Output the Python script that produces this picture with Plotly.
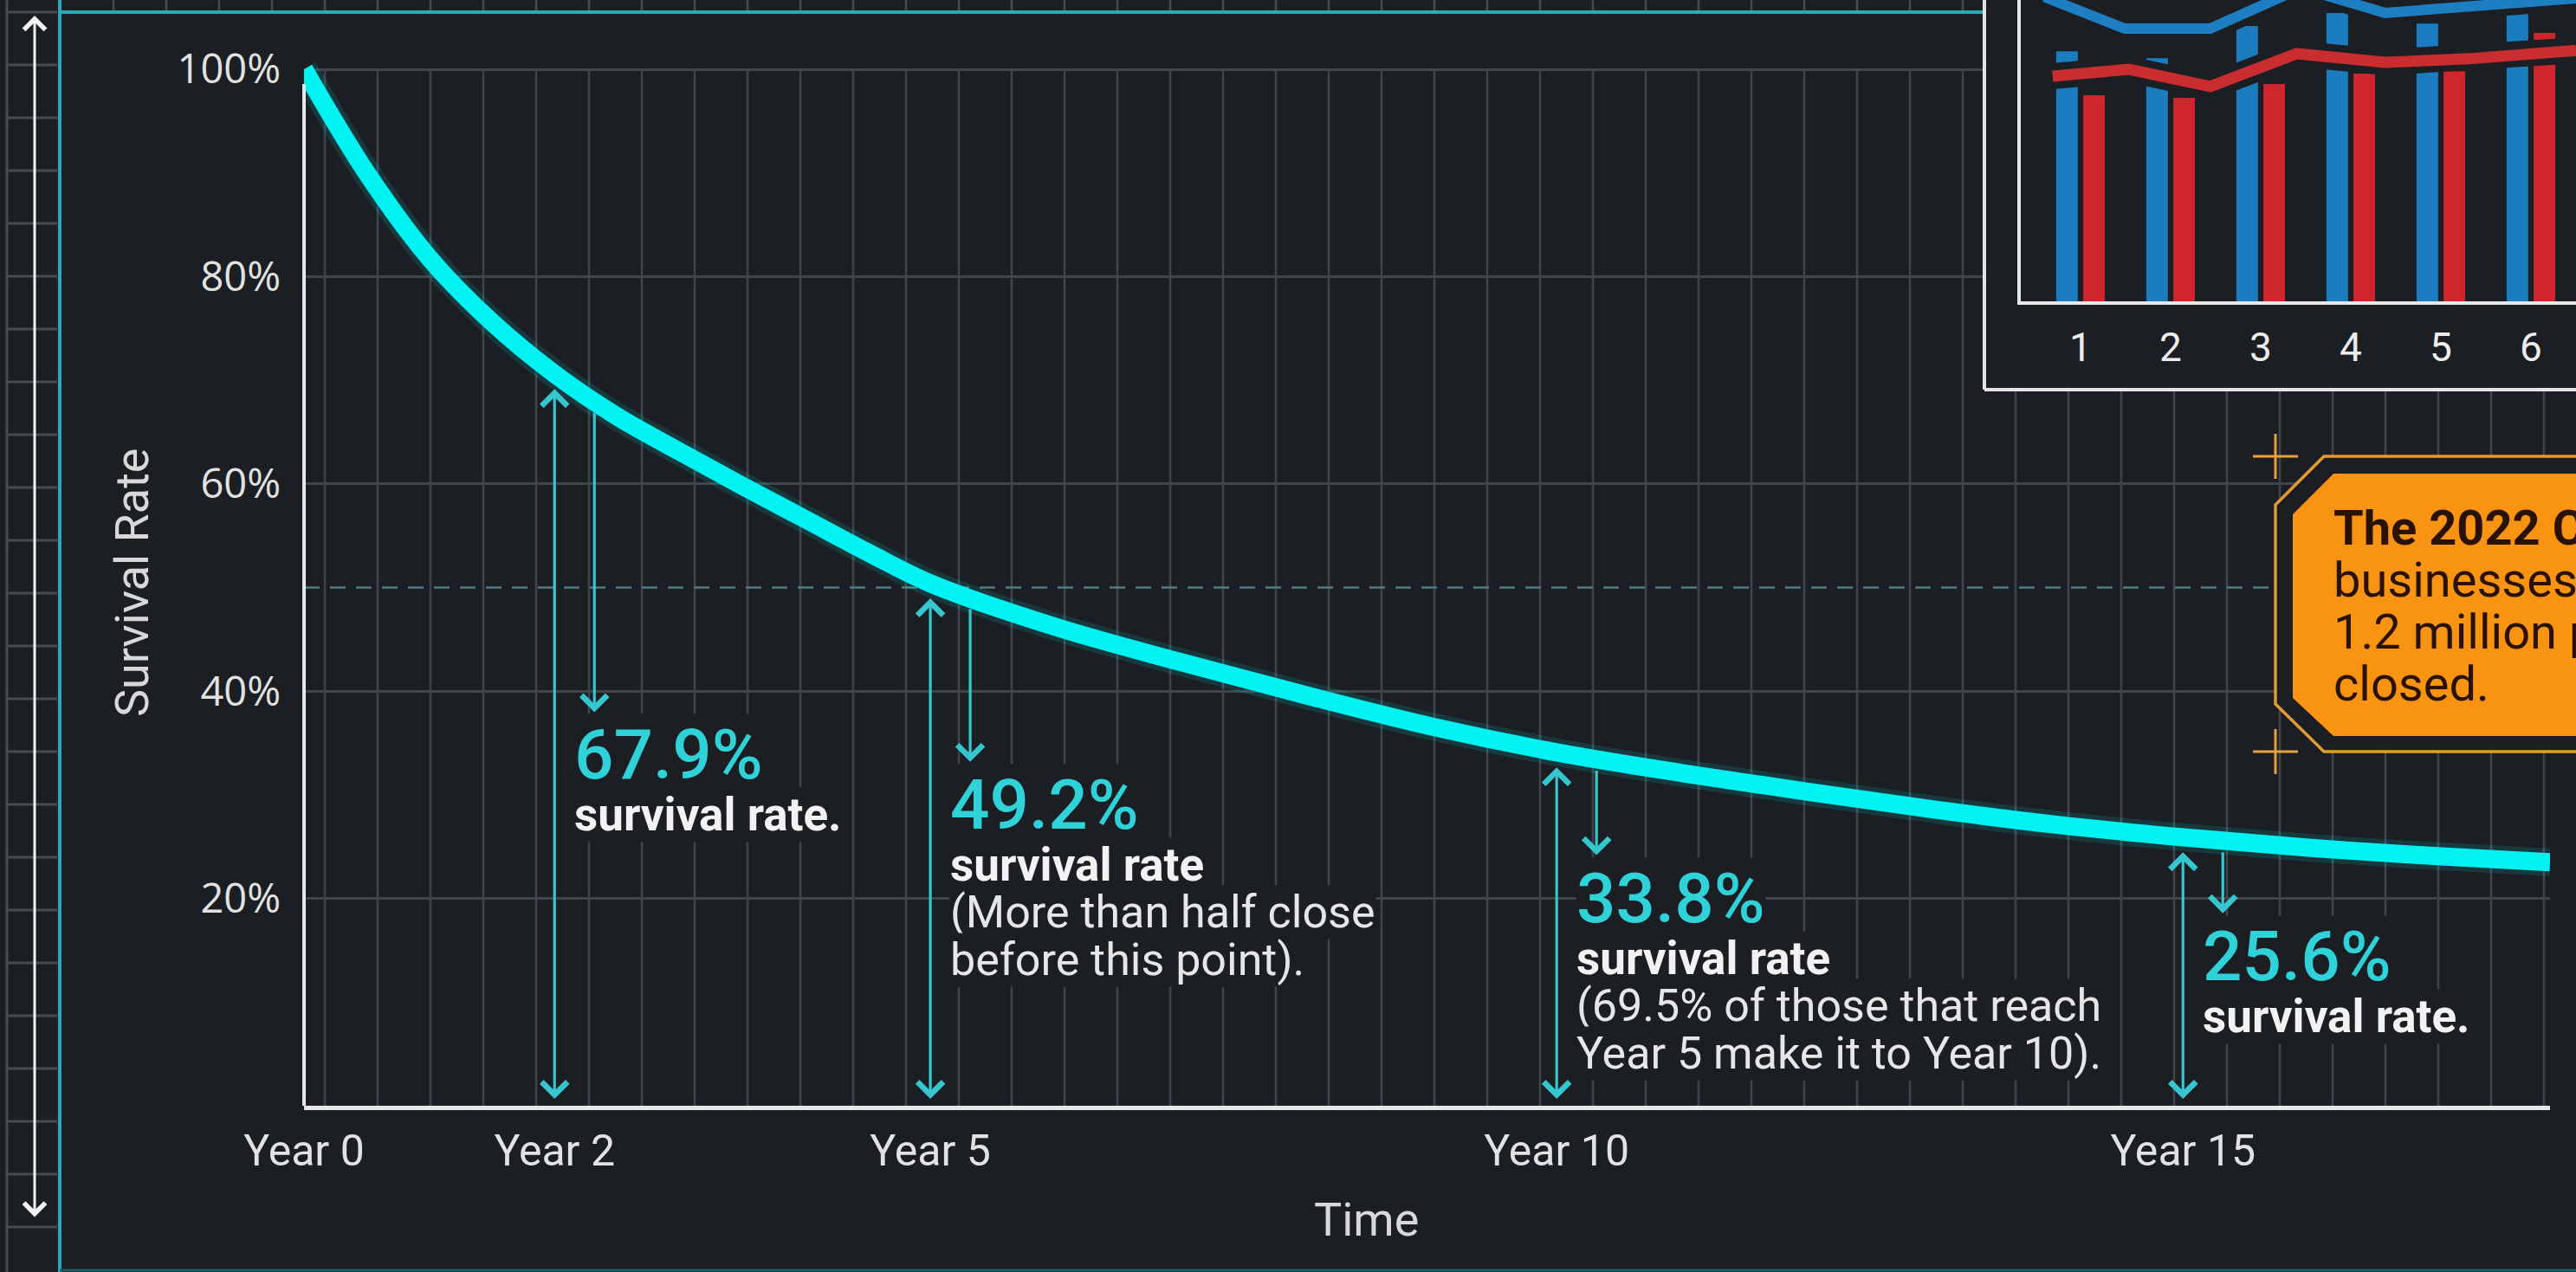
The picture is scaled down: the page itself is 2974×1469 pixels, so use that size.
import numpy as np
import plotly.graph_objects as go

# ------------------------------------------------------------------ data
years = [0, 0.5, 1, 1.5, 2, 2.5, 3, 3.5, 4, 4.5, 5, 6, 7, 8, 9, 10, 11, 12, 13, 14, 15, 16, 17, 17.93]
survival = [100, 90.0, 81.8, 75.6, 70.6, 66.5, 63.1, 59.8, 56.6, 53.4, 50.4, 46.2, 42.8, 39.6, 36.6,
            34.1, 32.1, 30.3, 28.6, 27.1, 25.9, 24.9, 24.1, 23.5]

milestone_years = [2, 5, 10, 15]
milestone_rates = [67.9, 49.2, 33.8, 25.6]
milestone_notes = [
    ["survival rate."],
    ["survival rate", "(More than half close", "before this point)."],
    ["survival rate", "(69.5% of those that reach", "Year 5 make it to Year 10)."],
    ["survival rate."],
]

x_tick_vals = [0, 2, 5, 10, 15]
x_tick_text = ["Year 0", "Year 2", "Year 5", "Year 10", "Year 15"]
y_tick_vals = [20, 40, 60, 80, 100]
y_tick_text = ["20%", "40%", "60%", "80%", "100%"]
half_mark = 50

inset_cats = [1, 2, 3, 4, 5, 6]
inset_blue_bars = [83.0, 80.7, 91.4, 95.7, 92.2, 96.6]
inset_red_bars = [68.4, 67.5, 72.1, 75.6, 76.4, 89.1]
inset_blue_line_x = [0.6, 1.49, 2.44, 3.45, 4.38, 5.31, 6.5]
inset_blue_line_y = [101.0, 90.5, 90.5, 104.0, 95.7, 97.7, 100.6]
inset_red_line_x = [0.69, 1.54, 2.44, 3.40, 4.38, 5.31, 6.5]
inset_red_line_y = [74.7, 77.0, 71.3, 82.2, 79.3, 80.5, 83.3]

callout_lines = ["The 2022 Census data:", "businesses opened and", "1.2 million private", "closed."]

# ------------------------------------------------------------------ layout constants
W, H = 2974, 1469
BG = "#1b1e23"
GRID = "#40454c"
CYAN = "#00f2f2"
ARROW = "#36c6cf"
PCT = "#2fd2d8"
FONT = "Roboto"

PL, PR, PB = 351, 2944, 1277        # main plot left/right/bottom (px)
PPU = 11.97                          # px per percent
X_MAX = years[-1]
PPY = (PR - PL) / X_MAX              # px per year
Y_TOP = 102.0

label_y = [33.8, 29.0, 20.0, 14.4]  # vertical placement of each callout (in %)


def fx(p):
    return p / W


def fy(p):
    return 1 - p / H


fig = go.Figure()

# main curve (glow + line)
fig.add_trace(go.Scatter(x=years, y=survival, mode="lines",
                         line=dict(color="rgba(0,242,242,0.13)", width=32, shape="spline", smoothing=1.0),
                         hoverinfo="skip", showlegend=False))
fig.add_trace(go.Scatter(x=years, y=survival, mode="lines",
                         line=dict(color=CYAN, width=21, shape="spline", smoothing=1.0), showlegend=False))

# inset bars & lines
fig.add_trace(go.Bar(x=inset_cats, y=inset_blue_bars, width=0.24, offset=-0.27,
                     marker=dict(color="#1b7dc0", line=dict(width=0)), xaxis="x2", yaxis="y2", showlegend=False))
fig.add_trace(go.Bar(x=inset_cats, y=inset_red_bars, width=0.24, offset=0.03,
                     marker=dict(color="#cf252c", line=dict(width=0)), xaxis="x2", yaxis="y2", showlegend=False))
fig.add_trace(go.Scatter(x=inset_red_line_x, y=inset_red_line_y, mode="lines", line=dict(color=BG, width=30),
                         xaxis="x2", yaxis="y2", showlegend=False, hoverinfo="skip"))
fig.add_trace(go.Scatter(x=inset_red_line_x, y=inset_red_line_y, mode="lines", line=dict(color="#c92d30", width=13),
                         xaxis="x2", yaxis="y2", showlegend=False))
fig.add_trace(go.Scatter(x=inset_blue_line_x, y=inset_blue_line_y, mode="lines", line=dict(color=BG, width=28),
                         xaxis="x2", yaxis="y2", showlegend=False, hoverinfo="skip"))
fig.add_trace(go.Scatter(x=inset_blue_line_x, y=inset_blue_line_y, mode="lines", line=dict(color="#1d7fc1", width=12),
                         xaxis="x2", yaxis="y2", showlegend=False))

shapes = []
# vertical grid of main plot
xp = 375
while xp <= PR:
    xv = (xp - PL) / PPY
    shapes.append(dict(type="line", xref="x", yref="y", x0=xv, x1=xv, y0=0, y1=100, layer="below",
                       line=dict(color=GRID, width=2.5)))
    xp += 61
# cover main grid behind inset
shapes.append(dict(type="rect", xref="x", yref="y", layer="between", x0=(2291 - PL) / PPY, x1=X_MAX + 1,
                   y0=(PB - 450) / PPU, y1=Y_TOP + 5, fillcolor=BG, line=dict(width=0)))
# dashed 50% line
shapes.append(dict(type="line", xref="x", yref="y", layer="between", x0=0, x1=X_MAX, y0=half_mark, y1=half_mark,
                   line=dict(color="#527d82", width=2.5, dash="18px,12px")))

# left ruler & frame
shapes.append(dict(type="line", xref="paper", yref="paper", x0=fx(8), x1=fx(8), y0=0, y1=1, layer="above",
                   line=dict(color="#474c53", width=3)))
yt = 14
while yt < H:
    shapes.append(dict(type="line", xref="paper", yref="paper", x0=fx(8), x1=fx(66), y0=fy(yt), y1=fy(yt),
                       layer="above", line=dict(color="#474c53", width=3)))
    yt += 61
xt = 131
while xt < 2290:
    shapes.append(dict(type="line", xref="paper", yref="paper", x0=fx(xt), x1=fx(xt), y0=fy(0), y1=fy(12),
                       layer="above", line=dict(color="#474c53", width=2.5)))
    xt += 61
shapes.append(dict(type="line", xref="paper", yref="paper", x0=fx(69), x1=fx(69), y0=0, y1=1, layer="above",
                   line=dict(color="#2aaab8", width=4)))
shapes.append(dict(type="line", xref="paper", yref="paper", x0=fx(69), x1=fx(2291), y0=fy(14), y1=fy(14),
                   layer="above", line=dict(color="#2aaab8", width=4)))
shapes.append(dict(type="line", xref="paper", yref="paper", x0=fx(69), x1=1, y0=fy(1467), y1=fy(1467),
                   layer="above", line=dict(color="#1b5c64", width=3)))
# y axis line
shapes.append(dict(type="line", xref="paper", yref="paper", x0=fx(PL), x1=fx(PL), y0=fy(97), y1=fy(PB),
                   layer="above", line=dict(color="#e6e6e6", width=4)))
# inset outer frame
shapes.append(dict(type="line", xref="paper", yref="paper", x0=fx(2291), x1=fx(2291), y0=fy(0), y1=fy(450),
                   layer="above", line=dict(color="#e4e4e4", width=4)))
shapes.append(dict(type="line", xref="paper", yref="paper", x0=fx(2291), x1=1.01, y0=fy(450), y1=fy(450),
                   layer="above", line=dict(color="#e4e4e4", width=4)))


# orange callout
def poly(pts):
    return "M " + " L ".join(f"{fx(a):.5f},{fy(b):.5f}" for a, b in pts) + " Z"


ORANGE = "#f99412"
ORANGE_LINE = "#e39a32"
shapes.append(dict(type="path", xref="paper", yref="paper", layer="above",
                   path=poly([(2683, 527), (2995, 527), (2995, 868), (2683, 868), (2627, 813), (2627, 583)]),
                   fillcolor=BG, line=dict(color=ORANGE_LINE, width=3.5)))
shapes.append(dict(type="path", xref="paper", yref="paper", layer="above",
                   path=poly([(2694, 547), (2995, 547), (2995, 850), (2694, 850), (2647, 806), (2647, 594)]),
                   fillcolor=ORANGE, line=dict(width=0)))
for cx, cy in [(2627, 527), (2627, 868)]:
    shapes.append(dict(type="line", xref="paper", yref="paper", layer="above", x0=fx(cx - 26), x1=fx(cx + 26),
                       y0=fy(cy), y1=fy(cy), line=dict(color="#e9a03c", width=3)))
    shapes.append(dict(type="line", xref="paper", yref="paper", layer="above", x0=fx(cx), x1=fx(cx),
                       y0=fy(cy - 26), y1=fy(cy + 26), line=dict(color="#e9a03c", width=3)))

annotations = []
# axis titles
annotations.append(dict(xref="paper", yref="paper", x=fx(152), y=fy(673), xanchor="center", yanchor="middle",
                        text="Survival Rate", showarrow=False, textangle=-90,
                        font=dict(family=FONT, size=54, color="#d8d8d8")))
annotations.append(dict(xref="paper", yref="paper", x=fx(1577), y=fy(1408), xanchor="center", yanchor="middle",
                        text="Time", showarrow=False, font=dict(family=FONT, size=54, color="#d8d8d8")))

# milestone callouts
TEXT_DX = 22
for yr, rate, notes, ly in zip(milestone_years, milestone_rates, milestone_notes, label_y):
    annotations.append(dict(xref="x", yref="y", x=yr, y=ly, xanchor="left", yanchor="middle", xshift=TEXT_DX,
                            text=f"{rate:.1f}%", showarrow=False, bgcolor=BG, borderpad=0,
                            font=dict(family=FONT, size=80, color=PCT, weight=500)))
    for j, line in enumerate(notes):
        shift = -(69 + 55 * j)
        if j == 0:
            fnt = dict(family=FONT, size=53, color="#f2f2f2", weight="bold")
        else:
            fnt = dict(family=FONT, size=52, color="#e6e6e6")
        annotations.append(dict(xref="x", yref="y", x=yr, y=ly, xanchor="left", yanchor="middle", xshift=TEXT_DX,
                                yshift=shift, text=line, showarrow=False, bgcolor=BG, borderpad=0, font=fnt))

for yr, ly in zip(milestone_years, label_y):
    curve_here = float(np.interp(yr, years, survival))
    # double arrow from axis up to the curve
    annotations.append(dict(xref="x", yref="y", axref="x", ayref="y", x=yr, y=curve_here - 1.45, ax=yr, ay=0.55,
                            text="", showarrow=True, arrowside="end+start", arrowhead=4, startarrowhead=4,
                            arrowsize=1.8, startarrowsize=1.8, arrowwidth=3.2, arrowcolor=ARROW))
    # arrow from the curve down to the label
    x2 = yr + 46 / PPY
    top = float(np.interp(x2, years, survival)) - 1.0
    annotations.append(dict(xref="x", yref="y", axref="x", ayref="y", x=x2, y=ly + 50 / PPU, ax=x2, ay=top,
                            text="", showarrow=True, arrowhead=4, arrowsize=1.8, arrowwidth=3.2, arrowcolor=ARROW))

# left double arrow
annotations.append(dict(xref="paper", yref="paper", x=fx(40), y=fy(18), ax=0, ay=1389, axref="pixel", ayref="pixel",
                        text="", showarrow=True, arrowside="end+start", arrowhead=4, startarrowhead=4,
                        arrowsize=1.6, startarrowsize=1.6, arrowwidth=3, arrowcolor="#f2f2f2"))

# callout text
for i, line in enumerate(callout_lines):
    annotations.append(dict(xref="paper", yref="paper", x=fx(2692), y=fy(610 + 60 * i), xanchor="left",
                            yanchor="middle", text=f"<b>{line}</b>" if i == 0 else line, showarrow=False,
                            font=dict(family=FONT, size=56, color="#2a1200")))

fig.update_layout(
    width=W, height=H,
    margin=dict(l=0, r=0, t=0, b=0, pad=0, autoexpand=False),
    paper_bgcolor=BG, plot_bgcolor="rgba(0,0,0,0)",
    showlegend=False,
    xaxis=dict(domain=[fx(PL), fx(PR)], range=[0, X_MAX], tickmode="array", tickvals=x_tick_vals,
               ticktext=x_tick_text, showgrid=False, zeroline=False, showline=True, linecolor="#e6e6e6",
               linewidth=5, ticks="", automargin=False,
               tickfont=dict(family=FONT, size=50, color="#e2e2e2"), ticklabelstandoff=4, fixedrange=True),
    yaxis=dict(domain=[fy(PB), fy(PB - Y_TOP * PPU)], range=[0, Y_TOP], tickmode="array", tickvals=y_tick_vals,
               ticktext=y_tick_text, showgrid=True, gridcolor=GRID, gridwidth=3, zeroline=False, showline=False,
               ticks="", automargin=False, tickfont=dict(family="Open Sans", size=47, color="#e2e2e2"),
               ticklabelstandoff=26, fixedrange=True),
    xaxis2=dict(domain=[fx(2333), 1], anchor="y2", range=[0.337, 6.5], tickmode="array", tickvals=inset_cats,
                showgrid=False, zeroline=False, showline=True, linecolor="#e8e8e8", linewidth=4, ticks="",
                automargin=False, tickfont=dict(family=FONT, size=46, color="#ececec"), ticklabelstandoff=10,
                fixedrange=True),
    yaxis2=dict(domain=[fy(348), 1], anchor="x2", range=[0, 100], showgrid=False, zeroline=False, showline=True,
                linecolor="#e8e8e8", linewidth=4, showticklabels=False, ticks="", automargin=False,
                fixedrange=True),
    shapes=shapes,
    annotations=annotations,
)

fig.write_html("out.html", config={"displayModeBar": False},
               post_script="document.body.style.margin='0';document.body.style.background='#1b1e23';")
